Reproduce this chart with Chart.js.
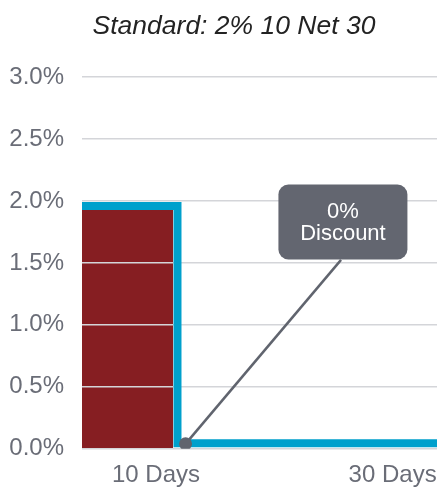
<!DOCTYPE html>
<html>
<head>
<meta charset="utf-8">
<script src="https://cdn.jsdelivr.net/npm/chart.js@4/dist/chart.umd.min.js"></script>
<style>
  html, body { margin: 0; padding: 0; background: #fff; }
  #wrap { position: relative; width: 437px; height: 489px; overflow: hidden; }
  #title {
    position: absolute; left: 0; top: 10px; width: 468px;
    text-align: center; line-height: 30px;
    font: italic 26.5px 'Liberation Sans', Arial, sans-serif; color: #232323;
  }
</style>
</head>
<body>
<div id="wrap">
  <canvas id="termsChart"></canvas>
  <div id="title">Standard: 2% 10 Net 30</div>
</div>
<script>
// x values are days, y values are discount %
const dayTicks = [10, 30];
const dayLabels = ['10 Days', '30 Days'];
const dayRange = [3.75, 33.75];

const barDays = [3.75, 11.45];
const barRate = [1.93, 1.93];

const discountDays = [3.75, 11.82, 11.82, 33.75];
const discountRate = [1.96, 1.96, 0.044, 0.044];

const pointerDays = [12.5, 25.64];
const pointerRate = [0.04, 1.524];

const calloutAt = [25.8, 1.83];
const calloutText = ['0%', 'Discount'];

const grey = '#6a6d77';

Chart.defaults.font.family = "'Liberation Sans', Arial, sans-serif";

const toPoints = (xs, ys) => xs.map((x, i) => ({ x: x, y: ys[i] }));

const calloutBox = {
  id: 'calloutBox',
  afterDatasetsDraw(chart) {
    const { ctx, scales } = chart;
    const cx = scales.x.getPixelForValue(calloutAt[0]);
    const cy = scales.y.getPixelForValue(calloutAt[1]);
    const w = 129, h = 75;
    ctx.save();
    ctx.fillStyle = '#636670';
    ctx.beginPath();
    ctx.roundRect(cx - w / 2, cy - h / 2, w, h, 10);
    ctx.fill();
    ctx.fillStyle = '#ffffff';
    ctx.font = "22px 'Liberation Sans', Arial, sans-serif";
    ctx.textAlign = 'center';
    ctx.textBaseline = 'middle';
    ctx.fillText(calloutText[0], cx, cy - 10);
    ctx.fillText(calloutText[1], cx, cy + 12);
    ctx.restore();
  }
};

new Chart(document.getElementById('termsChart'), {
  type: 'line',
  data: {
    datasets: [
      {
        label: 'Pointer',
        data: toPoints(pointerDays, pointerRate),
        borderColor: '#60646e',
        backgroundColor: '#60646e',
        borderWidth: 2.5,
        pointRadius: [6.5, 0],
        pointBorderWidth: 0,
        order: 0
      },
      {
        label: 'Discount',
        data: toPoints(discountDays, discountRate),
        borderColor: '#00a0cc',
        borderWidth: 8,
        borderJoinStyle: 'miter',
        pointRadius: 0,
        fill: false,
        order: 1
      },
      {
        label: 'Savings',
        data: toPoints(barDays, barRate),
        borderWidth: 0,
        borderColor: 'rgba(0,0,0,0)',
        backgroundColor: '#861e22',
        pointRadius: 0,
        fill: 'origin',
        order: 2
      }
    ]
  },
  options: {
    responsive: true,
    maintainAspectRatio: false,
    animation: false,
    devicePixelRatio: 1,
    layout: { autoPadding: false, padding: { top: 77, left: 9, right: 0, bottom: 0 } },
    plugins: {
      legend: { display: false },
      tooltip: { enabled: false },
      filler: { drawTime: 'beforeDraw' }
    },
    scales: {
      x: {
        type: 'linear',
        min: dayRange[0],
        max: dayRange[1],
        grid: { display: false, tickLength: 13.8 },
        border: { display: false },
        afterBuildTicks: scale => { scale.ticks = dayTicks.map(v => ({ value: v })); },
        afterFit: scale => { scale.paddingLeft = 0; scale.paddingRight = 0; },
        ticks: {
          color: grey,
          font: { size: 24, lineHeight: 1.1 },
          padding: 0,
          maxRotation: 0,
          callback: (v, i) => dayLabels[i]
        }
      },
      y: {
        min: 0,
        max: 3,
        grid: { color: '#d4d5d9', lineWidth: 1.5, drawTicks: false },
        border: { display: false },
        afterFit: scale => { scale.width = 73; },
        ticks: {
          stepSize: 0.5,
          color: grey,
          font: { size: 24 },
          padding: 18,
          callback: v => v.toFixed(1) + '%'
        }
      }
    }
  },
  plugins: [calloutBox]
});
</script>
</body>
</html>
